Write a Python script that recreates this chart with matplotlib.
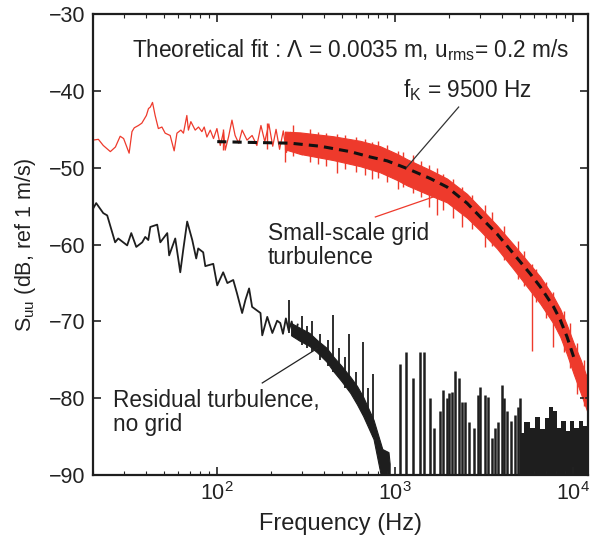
import numpy as np
import matplotlib.pyplot as plt

plt.rcParams['font.family'] = ['Liberation Sans', 'DejaVu Sans']
plt.rcParams['mathtext.fontset'] = 'custom'
plt.rcParams['mathtext.rm'] = 'Liberation Sans'
plt.rcParams['mathtext.it'] = 'Liberation Sans'

### DATA ###
# grid turbulence spectrum, low frequency part (Hz, dB)
red_f = [20.1, 21.5, 22.9, 25.1, 26.8, 28.5, 29.8, 32.0, 33.2, 34.2, 36.1, 37.7, 40.0, 41.1, 42.1,
         43.3, 44.8, 46.7, 48.9, 51.0, 54.4, 57.3, 59.4, 62.5, 64.6, 67.5, 68.9, 71.1, 75.2, 78.5,
         82.0, 84.5, 87.5, 91.4, 95.3, 99.6, 104, 108.5, 110.9, 115.7, 121, 126, 132, 138, 147,
         157, 167, 176, 185, 195, 205, 214, 224, 235, 245, 258, 270, 285, 300]
red_db = [-46.4, -46.3, -47.1, -47.9, -47.3, -45.9, -46.2, -48.1, -45.3, -44.8, -44.5, -44.2, -43.2, -42.3, -42.1,
          -41.5, -43.2, -44.9, -44.7, -45.5, -45.8, -47.8, -45.5, -45.1, -45.5, -43.2, -45.1, -44.0, -45.1, -44.7,
          -45.3, -44.7, -46.0, -45.1, -46.2, -44.9, -47.1, -45.3, -47.7, -46.0, -43.8, -45.8, -46.8, -45.1, -46.4,
          -45.8, -47.1, -44.5, -46.6, -44.3, -47.2, -45.0, -47.6, -45.2, -48.0, -45.4, -47.5, -45.6, -48.3]
# grid turbulence spectrum, dense part: band envelopes
band_f = [240, 292, 448, 636, 823, 1025, 1166, 1573, 1952, 2528, 3004, 3727, 4620, 5731, 6530,
          7750, 8450, 9220, 10040, 11000, 12100]
band_hi = [-45.3, -45.4, -45.9, -46.5, -47.2, -48.2, -48.9, -50.3, -51.4, -53.4, -55.2, -57.5,
           -60.0, -62.6, -64.2, -66.8, -68.4, -70.5, -72.8, -75.0, -77.7]
band_lo = [-47.6, -48.2, -49.0, -49.8, -50.6, -51.6, -52.3, -53.6, -54.5, -56.5, -58.2, -60.5,
           -63.2, -66.0, -67.7, -70.3, -72.0, -74.3, -76.8, -79.3, -82.0]
# noise spikes of the grid spectrum (Hz, low dB, high dB)
rspike_f = [108, 190, 241, 265, 330, 370, 410, 470, 520, 600, 680, 740, 800, 900, 1030, 1100, 1250,
            1400, 1540, 1720, 1850, 2100, 2370, 2700, 3200, 3500, 4100, 4900, 5300, 5860, 6200,
            7000, 7740, 8900, 9600, 10500, 11500]
rspike_lo = [-47.7, -47.5, -49.2, -48.5, -49.3, -49.5, -49.8, -50.7, -50.2, -50.5, -51.0, -51.4, -51.3,
             -51.8, -52.7, -52.5, -53.3, -53.8, -55.1, -56.2, -55.5, -56.6, -57.7, -58.0, -60.3, -60.2,
             -62.0, -64.5, -65.4, -73.8, -67.5, -69.5, -73.3, -74.0, -76.0, -79.5, -81.0]
rspike_hi = [-45.0, -44.2, -45.3, -44.5, -45.0, -45.4, -45.5, -45.6, -45.8, -46.0, -46.3, -46.6, -46.5,
             -47.0, -47.8, -48.0, -48.4, -49.1, -49.6, -50.0, -50.8, -51.4, -52.5, -53.5, -54.8, -55.8,
             -57.6, -59.5, -60.8, -62.5, -63.2, -64.8, -66.2, -68.6, -70.2, -72.8, -75.0]

# theoretical fit (Hz, dB)
fit_f = [100, 153, 257, 379, 558, 724, 900, 1025, 1166, 1573, 1952, 2528, 3004, 3727, 4620,
         5731, 6530, 7750, 8450, 9220, 10040]
fit_db = [-46.6, -46.7, -46.8, -47.2, -47.9, -48.6, -49.1, -49.6, -50.1, -51.4, -52.5, -54.6, -56.4,
          -58.6, -61.2, -63.8, -65.5, -68.1, -69.8, -72.0, -74.6]

# residual turbulence spectrum, low frequency part
blk_f = [20.1, 20.9, 22.9, 24.1, 26.7, 27.8, 31.2, 32.9, 35.1, 37.9, 39.4, 41.0, 42.1, 46.0, 47.9,
         52.4, 53.7, 58.1, 62.0, 64.4, 67.8, 72.4, 76.2, 78.2, 83.4, 85.7, 95.0, 100, 108, 114,
         123, 129, 138, 144, 151, 157, 175, 179, 191, 204, 217, 226, 234, 243, 252, 262, 272, 283]
blk_db = [-55.3, -54.6, -55.9, -56.2, -59.7, -59.2, -60.1, -58.5, -60.3, -59.7, -59.0, -59.4, -57.7,
          -57.4, -59.7, -58.5, -61.4, -59.2, -63.6, -60.7, -57.0, -59.4, -61.8, -60.5, -61.0, -62.8,
          -62.5, -65.3, -63.6, -65.0, -64.6, -66.3, -68.9, -67.2, -65.7, -68.1, -68.9, -71.8, -69.4,
          -71.5, -69.9, -70.2, -71.6, -69.6, -71.2, -70.0, -72.0, -70.4]
# residual spectrum, dense part: band envelopes
bband_f = [260, 290, 330, 363, 410, 450, 500, 559, 610, 660, 755, 846, 916, 930]
bband_hi = [-70.2, -70.8, -71.5, -72.4, -73.4, -74.6, -75.8, -77.2, -78.4, -79.8, -82.8, -86.6, -87.0, -88.5]
bband_lo = [-71.8, -72.5, -73.2, -74.0, -75.2, -76.5, -77.8, -79.3, -80.8, -82.3, -85.3, -91.0, -91.0, -91.0]
# noise spikes on the residual band (Hz, low dB, top dB)
bspike_f = [252, 300, 320, 340, 380, 420, 447, 480, 520, 553, 600, 660, 700, 750]
bspike_lo = [-71.5, -73.0, -73.4, -74.0, -75.0, -75.8, -76.6, -77.0, -78.6, -79.0, -80.5, -82.0, -83.2, -85.0]
bspike_db = [-67.2, -69.3, -70.6, -70.0, -71.6, -72.4, -69.2, -73.4, -74.6, -71.6, -76.6, -72.7, -78.6, -76.8]
# isolated spectral lines at high frequency (Hz, top dB)
line_f = [1067, 1150, 1256, 1370, 1455, 1573, 1642, 1774, 1853, 1952, 1994, 2081, 2172, 2268, 2370,
          2473, 2583, 2780, 2900, 3004, 3206, 3303, 3494, 3646, 3758, 3975, 4095, 4243, 4467, 4721,
          4866, 5038]
line_db = [-75.5, -74.0, -77.4, -74.0, -74.0, -80.0, -83.9, -81.6, -78.9, -80.0, -79.3, -79.2, -76.4,
           -77.4, -80.5, -80.5, -83.1, -83.9, -79.6, -78.5, -79.6, -79.8, -85.2, -83.9, -83.1, -78.3,
           -80.0, -81.6, -82.9, -82.2, -81.1, -80.0]
# solid noise floor above 5 kHz (Hz, top dB)
floor_f = [5100, 5500, 5900, 6300, 6700, 7100, 7500, 7900, 8300, 8800, 9300, 9800, 10400, 11000, 11600, 12200]
floor_db = [-84.5, -83.1, -83.9, -82.4, -84.0, -82.6, -81.1, -81.6, -83.9, -82.9, -84.2, -82.9, -83.9,
            -82.9, -83.6, -82.9]

red = '#ee3a2c'
blk = '#1e1e1e'
txt = '#222222'

fig = plt.figure(figsize=(5.91, 5.40), dpi=100)
ax = fig.add_axes([0.157, 0.120, 0.838, 0.854])

## residual turbulence
ax.plot(blk_f, blk_db, color=blk, lw=1.3)
ax.fill_between(bband_f, bband_hi, bband_lo, color=blk, lw=0.8)
ax.vlines(bspike_f, bspike_lo, bspike_db, color=blk, lw=1.3)
ax.vlines(line_f, -92, line_db, color=blk, lw=1.8)
ax.fill_between(floor_f, floor_db, -92, step='mid', color=blk, lw=0)

## grid turbulence
ax.fill_between(band_f, band_hi, band_lo, color=red, lw=0.8)
ax.vlines(rspike_f, rspike_lo, rspike_hi, color=red, lw=1.0)
ax.plot(red_f, red_db, color=red, lw=0.9)

## theoretical fit
ax.plot(fit_f, fit_db, color='#111111', lw=2.2, ls=(0, (3, 2)))

## axes
ax.set_xscale('log')
ax.set_xlim(20, 12100)
ax.set_ylim(-90, -30)
ax.set_yticks(np.arange(-90, -29, 10))
ax.set_xticks([100, 1000, 10000])
ax.set_xticklabels([r'$\mathregular{10^2}$', r'$\mathregular{10^3}$', r'$\mathregular{10^4}$'])
ax.tick_params(which='both', direction='in', top=True, right=True, labelsize=15.5, width=1.2, colors=txt)
ax.tick_params(which='major', length=6, pad=5)
ax.tick_params(which='minor', length=3, width=0.8)
for s in ax.spines.values():
    s.set_linewidth(1.6)
    s.set_color(blk)
ax.set_xlabel('Frequency (Hz)', fontsize=17, labelpad=6, color=txt)
ax.set_ylabel(r'S$_{\rm uu}$ (dB, ref 1 m/s)', fontsize=15.5, labelpad=8, color=txt)

## annotations
ax.text(0.079, 0.922, r'Theoretical fit : Λ = 0.0035 m, u$_{\rm rms}$= 0.2 m/s', transform=ax.transAxes,
        fontsize=16.3, va='center', ha='left', color=txt)
ax.text(0.626, 0.835, r'f$_{\rm K}$ = 9500 Hz', transform=ax.transAxes,
        fontsize=16.3, va='center', ha='left', color=txt)
ax.plot([2270, 1164], [-42.1, -49.9], color='#333333', lw=0.9)
ax.text(0.354, 0.499, 'Small-scale grid\nturbulence', transform=ax.transAxes,
        fontsize=16.3, va='center', ha='left', color=txt, linespacing=1.05)
ax.plot([773, 1634], [-56.4, -53.8], color=red, lw=0.9)
ax.text(0.040, 0.136, 'Residual turbulence,\nno grid', transform=ax.transAxes,
        fontsize=16.3, va='center', ha='left', color=txt, linespacing=1.05)
ax.plot([179, 365], [-78.0, -73.5], color=txt, lw=0.9)

fig.savefig('out.png', dpi=100)
